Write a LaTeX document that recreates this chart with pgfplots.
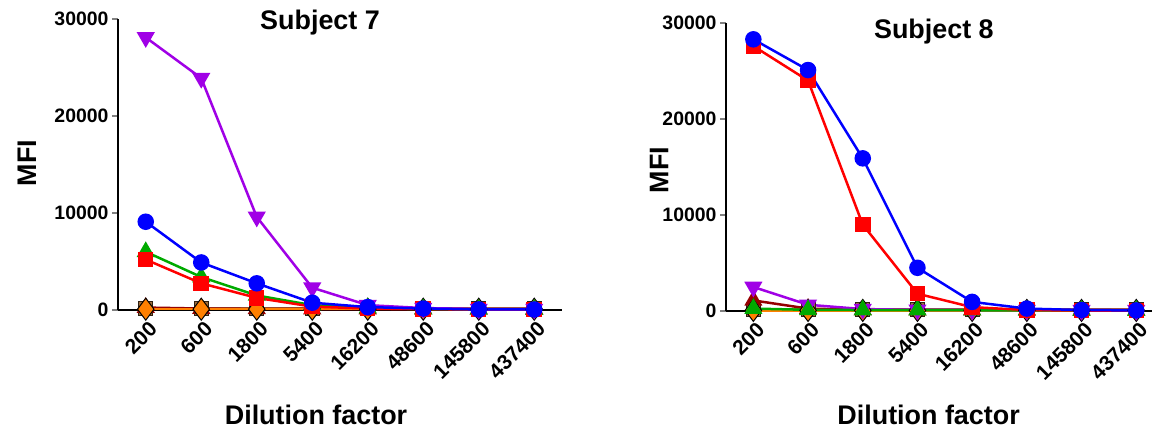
\documentclass[border=0pt]{standalone}
\usepackage{fontspec}
\setmainfont{Liberation Sans}
\usepackage{pgfplots}
\pgfplotsset{compat=1.18}
\definecolor{cred}{RGB}{255,0,0}
\definecolor{cblue}{RGB}{0,0,255}
\definecolor{cgreen}{RGB}{0,170,0}
\definecolor{cpurple}{RGB}{160,0,230}
\definecolor{cmaroon}{RGB}{150,0,0}
\definecolor{corange}{RGB}{255,128,0}
\definecolor{cbrown}{RGB}{160,110,60}
\pgfplotsset{
  panel/.style={
    scale only axis,
    axis x line=bottom, axis y line=left,
    axis line style={-, line width=2.5bp},
    xmin=-0.5, ymin=0, ymax=30000,
    xtick={0,...,7},
    xticklabels={200,600,1800,5400,16200,48600,145800,437400},
    xtick style={draw=none},
    ytick={0,10000,20000,30000},
    ytick style={line width=2.5bp},
    tick align=outside,
    major tick length=6bp,
    /pgf/number format/assume math mode=true,
    /pgf/number format/1000 sep={},
    scaled y ticks=false,
    tick label style={font=\fontsize{19.5}{21}\selectfont\bfseries},
    xticklabel style={font=\fontsize{21}{23}\selectfont\bfseries, rotate=45, anchor=east, yshift=-12bp, xshift=2bp},
    label style={font=\fontsize{27}{30}\selectfont\bfseries},
    title style={font=\fontsize{27}{30}\selectfont\bfseries, anchor=center},
    every axis plot/.append style={line width=2.5bp},
    clip=false,
  },
  sred/.style={color=cred, mark=square*, mark size=6.5bp},
  sblue/.style={color=cblue, mark=*, mark size=7bp},
  sgreen/.style={color=cgreen, mark=triangle*, mark size=8bp},
  spurple/.style={color=cpurple, mark=triangle*, mark size=8bp, mark options={rotate=180}},
  smaroon/.style={color=cmaroon, mark=triangle*, mark size=8bp},
  sorange/.style={color=corange, mark=diamond*, mark size=11bp, mark options={draw=black, line width=1bp}},
  sbrown/.style={color=cbrown, mark=square*, mark size=7bp, mark options={draw=black!70!cbrown, line width=1bp}},
}
\begin{document}
\begin{tikzpicture}
\useasboundingbox (0,0) rectangle (1152bp,432bp);
\begin{axis}[panel, at={(118bp,122bp)}, anchor=south west,
  width=444bp, height=291bp, xmax=7.5,
  title={Subject 7}, title style={at={(0.455,0.966)}},
  xlabel={Dilution factor}, ylabel={MFI},
  xlabel style={at={(0.446,-0.36)}, anchor=center},
  ylabel style={at={(-0.205,0.505)}, anchor=center}]
\addplot[sbrown] coordinates {(0,150)(1,150)(2,150)(3,150)(4,150)(5,150)(6,150)(7,150)};
\addplot[smaroon] coordinates {(0,250)(1,150)(2,120)(3,100)(4,100)(5,100)(6,100)(7,100)};
\addplot[sorange] coordinates {(0,80)(1,80)(2,80)(3,80)(4,80)(5,80)(6,80)(7,80)};
\addplot[sgreen] coordinates {(0,6000)(1,3400)(2,1500)(3,500)(4,200)(5,100)(6,60)(7,50)};
\addplot[sred] coordinates {(0,5200)(1,2750)(2,1250)(3,350)(4,150)(5,100)(6,50)(7,50)};
\addplot[spurple] coordinates {(0,28100)(1,23900)(2,9600)(3,2300)(4,500)(5,200)(6,100)(7,100)};
\addplot[sblue] coordinates {(0,9100)(1,4900)(2,2750)(3,750)(4,300)(5,150)(6,60)(7,50)};
\end{axis}
\begin{axis}[panel, at={(726bp,121bp)}, anchor=south west,
  width=437.6bp, height=288bp, xmax=7.5,
  title={Subject 8}, title style={at={(0.475,0.948)}},
  xlabel={Dilution factor}, ylabel={MFI},
  xlabel style={at={(0.463,-0.36)}, anchor=center},
  ylabel style={at={(-0.153,0.49)}, anchor=center}]
\addplot[sbrown] coordinates {(0,150)(1,150)(2,150)(3,150)(4,150)(5,150)(6,150)(7,150)};
\addplot[smaroon] coordinates {(0,1100)(1,250)(2,120)(3,100)(4,100)(5,100)(6,100)(7,100)};
\addplot[sorange] coordinates {(0,60)(1,60)(2,60)(3,60)(4,60)(5,60)(6,60)(7,60)};
\addplot[spurple] coordinates {(0,2500)(1,650)(2,200)(3,120)(4,100)(5,100)(6,80)(7,80)};
\addplot[sgreen] coordinates {(0,250)(1,120)(2,100)(3,100)(4,80)(5,60)(6,50)(7,50)};
\addplot[sred] coordinates {(0,27600)(1,24000)(2,9000)(3,1800)(4,400)(5,100)(6,50)(7,50)};
\addplot[sblue] coordinates {(0,28300)(1,25100)(2,15900)(3,4500)(4,950)(5,250)(6,100)(7,60)};
\end{axis}
\end{tikzpicture}
\end{document}
